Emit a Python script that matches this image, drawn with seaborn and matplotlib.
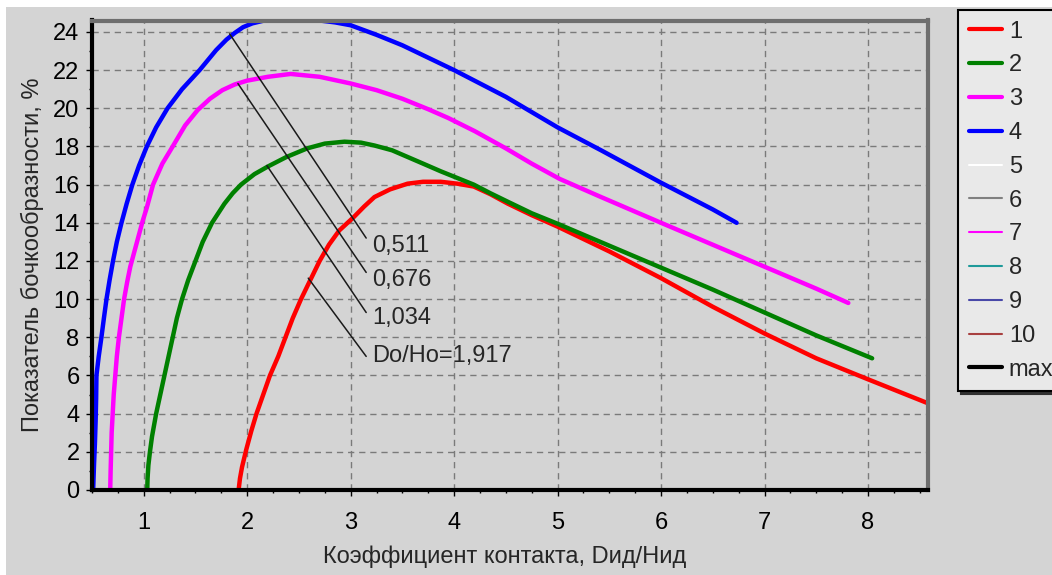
import pandas as pd
import matplotlib
matplotlib.use("Agg")
import matplotlib.pyplot as plt
import seaborn as sns
from matplotlib.lines import Line2D
from matplotlib.patches import Rectangle
from matplotlib.ticker import MultipleLocator

# Curve 1, Do/Ho = 1,917
x1 = [1.917, 1.93, 1.95, 1.99, 2.04, 2.09, 2.155, 2.22, 2.30, 2.37, 2.44, 2.52, 2.61,
      2.70, 2.79, 2.89, 3.03, 3.13, 3.23, 3.38, 3.55, 3.70, 3.87, 4.03, 4.19, 4.35, 4.52,
      4.75, 5.0, 5.25, 5.5, 5.75, 6.0, 6.25, 6.5, 6.75, 7.0, 7.25, 7.5, 7.75, 8.0, 8.3, 8.6]
y1 = [0.0, 0.6, 1.2, 2.1, 3.1, 4.0, 5.0, 6.0, 7.0, 8.0, 9.0, 10.0, 11.0,
      12.0, 12.85, 13.6, 14.3, 14.85, 15.35, 15.75, 16.05, 16.15, 16.15, 16.05, 15.9, 15.5, 15.0,
      14.4, 13.8, 13.15, 12.5, 11.8, 11.1, 10.35, 9.6, 8.9, 8.2, 7.55, 6.9, 6.35, 5.8, 5.15, 4.5]

# Curve 2, Do/Ho = 1,034
x2 = [1.034, 1.037, 1.045, 1.06, 1.08, 1.12, 1.16, 1.20, 1.24, 1.28, 1.32, 1.37, 1.43,
      1.50, 1.57, 1.66, 1.78, 1.86, 1.94, 2.07, 2.2, 2.38, 2.58, 2.75, 2.94, 3.1, 3.23,
      3.4, 3.55, 3.7, 3.87, 4.03, 4.19, 4.35, 4.52, 4.75, 5.0, 5.5, 6.0, 6.5, 7.0, 7.5, 8.04]
y2 = [0.0, 0.6, 1.3, 2.0, 2.8, 4.0, 5.0, 6.0, 7.0, 8.0, 9.0, 10.0, 11.0,
      12.0, 13.0, 14.0, 15.0, 15.55, 16.0, 16.55, 16.95, 17.45, 17.9, 18.15, 18.25, 18.2, 18.05,
      17.8, 17.45, 17.1, 16.7, 16.35, 16.0, 15.55, 15.1, 14.5, 13.95, 12.8, 11.65, 10.5, 9.3,
      8.1, 6.9]

# Curve 3, Do/Ho = 0,676
x3 = [0.676, 0.68, 0.685, 0.69, 0.70, 0.71, 0.725, 0.74, 0.76, 0.785, 0.81, 0.84, 0.87,
      0.91, 0.95, 0.99, 1.03, 1.09, 1.18, 1.28, 1.40, 1.52, 1.64, 1.76, 1.88, 2.0, 2.2,
      2.42, 2.7, 3.0, 3.25, 3.5, 3.75, 3.94, 4.2, 4.5, 4.75, 5.02, 5.42, 6.0, 6.5, 7.0,
      7.5, 7.81]
y3 = [0.0, 1.0, 2.0, 3.0, 4.0, 5.0, 6.0, 7.0, 8.0, 9.0, 10.0, 10.9, 11.7,
      12.5, 13.3, 14.1, 14.8, 16.0, 17.1, 18.0, 19.1, 19.9, 20.5, 20.95, 21.25, 21.45, 21.65,
      21.8, 21.65, 21.3, 20.95, 20.5, 19.95, 19.5, 18.8, 17.9, 17.1, 16.3, 15.35, 14.0, 12.85,
      11.7, 10.55, 9.8]

# Curve 4, Do/Ho = 0,511
x4 = [0.511, 0.52, 0.528, 0.535, 0.54, 0.543, 0.565, 0.591, 0.615, 0.64, 0.67, 0.703,
      0.74, 0.785, 0.835, 0.89, 0.955, 1.03, 1.12, 1.23, 1.37, 1.54, 1.70, 1.80, 1.88,
      1.96, 2.05, 2.15, 2.25, 2.4, 2.55, 2.7, 2.85, 3.0, 3.25, 3.5, 3.75, 4.0, 4.5, 5.0,
      5.42, 6.0, 6.5, 6.73]
y4 = [0.0, 1.4, 2.4, 3.6, 4.8, 6.0, 7.0, 8.0, 9.0, 10.0, 11.0, 12.0,
      13.0, 14.0, 15.0, 16.0, 17.0, 18.0, 19.0, 20.0, 21.0, 22.0, 23.05, 23.6, 23.95,
      24.25, 24.45, 24.58, 24.65, 24.72, 24.7, 24.6, 24.5, 24.35, 23.85, 23.3, 22.65, 22.0,
      20.6, 19.0, 17.8, 16.1, 14.7, 14.0]

curve_names = ["1", "2", "3", "4"]
curve_colors = ["#ff0000", "#008000", "#ff00ff", "#0000ff"]

# legend entries of the original program
legend_labels = ["1", "2", "3", "4", "5", "6", "7", "8", "9", "10", "max"]
legend_colors = ["#ff0000", "#008000", "#ff00ff", "#0000ff", "#ffffff", "#808080",
                 "#ff00ff", "#1f9a9a", "#4848a8", "#a84040", "#000000"]
legend_widths = [3, 3, 3, 3, 1.5, 1.5, 1.5, 1.5, 1.5, 1.5, 3]

# Do/Ho callouts
ratio_labels = ["0,511", "0,676", "1,034", "Do/Ho=1,917"]
line_x0 = [1.83, 1.91, 2.19, 2.59]
line_y0 = [23.9, 21.3, 17.0, 11.1]
line_x1 = [3.15, 3.15, 3.15, 3.15]
line_y1 = [13.2, 11.4, 9.3, 7.0]
text_x = [3.21, 3.21, 3.21, 3.21]
text_y = [12.8, 11.0, 9.0, 7.0]

frames = []
for name, xs, ys in zip(curve_names, [x1, x2, x3, x4], [y1, y2, y3, y4]):
    frames.append(pd.DataFrame({"x": xs, "y": ys, "curve": name}))
df = pd.concat(frames, ignore_index=True)

sns.set_style("ticks")
plt.rcParams["font.family"] = ["Liberation Sans", "DejaVu Sans"]
plt.rcParams["font.size"] = 17

bg = "#d4d4d4"
fig = plt.figure(figsize=(10.52, 5.75), dpi=100, facecolor="white")
fig.patches.append(Rectangle((6 / 1052, 0), 1, (575 - 7) / 575, transform=fig.transFigure,
                             facecolor=bg, edgecolor="none", zorder=-10))
ax = fig.add_axes([92 / 1052, 85 / 575, 836 / 1052, 469.5 / 575])
ax.set_facecolor(bg)

sns.lineplot(data=df, x="x", y="y", hue="curve", hue_order=curve_names,
             palette=dict(zip(curve_names, curve_colors)), sort=False, estimator=None,
             linewidth=3.2, legend=False, ax=ax)

for i in range(len(ratio_labels)):
    ax.plot([line_x0[i], line_x1[i]], [line_y0[i], line_y1[i]], color="#1a1a1a", lw=1.1, zorder=3)
    ax.text(text_x[i], text_y[i], ratio_labels[i], ha="left", va="center", fontsize=17)

ax.set_xlim(0.5, 8.58)
ax.set_ylim(0, 24.6)
ax.xaxis.set_major_locator(MultipleLocator(1))
ax.xaxis.set_minor_locator(MultipleLocator(0.25))
ax.yaxis.set_major_locator(MultipleLocator(2))
ax.yaxis.set_minor_locator(MultipleLocator(1))
ax.grid(True, which="major", color="#7a7a7a", linestyle=(0, (4.5, 3.5)), linewidth=1.0)
ax.tick_params(which="major", direction="out", length=4, width=1, colors="black", labelsize=17)
ax.tick_params(axis="x", which="major", pad=12)
ax.tick_params(axis="y", which="major", pad=5)
ax.tick_params(which="minor", direction="out", length=2.5, width=1, colors="black")

for side in ["left", "bottom"]:
    ax.spines[side].set_color("black")
    ax.spines[side].set_linewidth(3)
for side in ["top", "right"]:
    ax.spines[side].set_color("#6e6e6e")
    ax.spines[side].set_linewidth(3)

ax.set_xlabel("Коэффициент контакта, Dид/Нид", fontsize=17)
ax.set_ylabel("Показатель бочкообразности, %", fontsize=17)
ax.xaxis.set_label_coords((505 - 92) / 836, (490 - 557) / 469.5)
ax.xaxis.label.set_va("center")
ax.yaxis.set_label_coords((32 - 92) / 836, 0.5)
ax.yaxis.label.set_va("center")

handles = [Line2D([0], [0], color=c, lw=w) for c, w in zip(legend_colors, legend_widths)]
leg = fig.legend(handles, legend_labels, loc="upper left",
                 bbox_to_anchor=(958 / 1052, 1 - 10 / 575), bbox_transform=fig.transFigure,
                 borderaxespad=0, fontsize=17, frameon=True, fancybox=False,
                 facecolor="#e9e9e9", edgecolor="black", framealpha=1,
                 handlelength=1.4, handletextpad=0.3, labelspacing=0.5, borderpad=0.45,
                 shadow={"color": "#303030", "alpha": 1.0, "ox": 2, "oy": -2})
leg.get_frame().set_linewidth(1.5)

fig.savefig("out.png", dpi=100, facecolor=fig.get_facecolor())
